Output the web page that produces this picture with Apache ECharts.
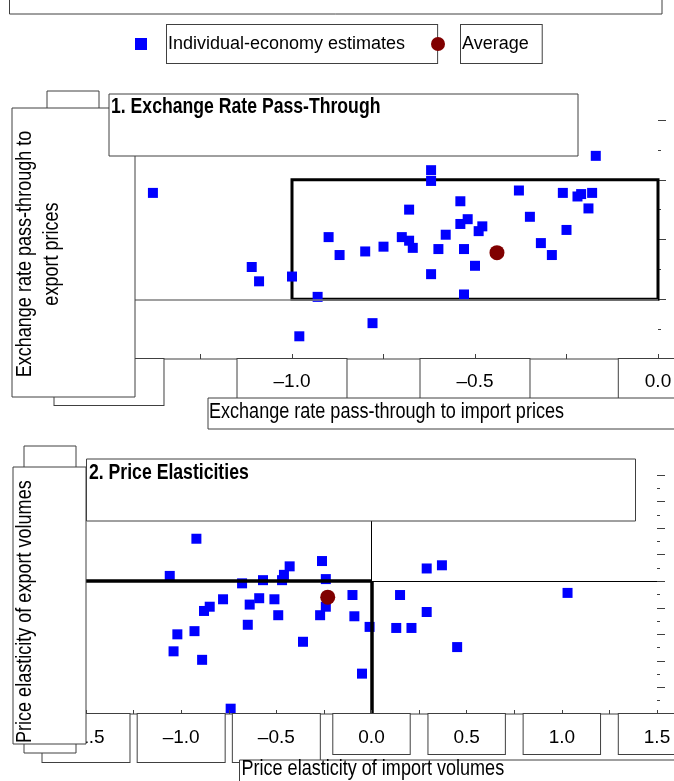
<!DOCTYPE html>
<html>
<head>
<meta charset="utf-8">
<title>Exchange rate pass-through and price elasticities</title>
<script src="https://cdn.jsdelivr.net/npm/echarts@6/dist/echarts.min.js"></script>
<style>
  html, body { margin: 0; padding: 0; background: #fff; }
  #chart { width: 674px; height: 781px; }
</style>
</head>
<body>
<div id="chart"></div>
<script>
// Panel 1: pass-through to import prices (x) and to export prices (y)
const passImport = [-0.17, -0.62, -0.62, -1.38, -0.38, -0.26, -0.21, -0.22, -0.18, -0.19,
                    -0.54, -0.68, -0.35, -0.52, -0.54, -0.48, -0.49, -0.25, -0.58, -0.90,
                    -0.70, -0.68, -0.67, -0.75, -0.60, -0.53, -0.32, -0.80, -0.87, -0.29,
                    -1.11, -1.09, -1.00, -0.50, -0.62, -0.93, -0.53, -0.78, -0.98];
const passExport = [1.20, 1.08, 0.99, 0.89, 0.91, 0.89, 0.88, 0.86, 0.89, 0.76,
                    0.82, 0.75, 0.69, 0.67, 0.63, 0.61, 0.57, 0.58, 0.54, 0.52,
                    0.52, 0.49, 0.43, 0.44, 0.42, 0.42, 0.47, 0.40, 0.37, 0.37,
                    0.27, 0.15, 0.19, 0.28, 0.21, 0.02, 0.04, -0.20, -0.31];
const passAverage = [-0.44, 0.39];

// Panel 2: price elasticity of import volumes (x) and export volumes (y)
const elasImport = [-0.92, -1.06, -0.68, -0.57, -0.47, -0.46, -0.43, -0.26, -0.24, 0.29,
                    0.37, 1.03, -0.78, -0.85, -0.88, -0.64, -0.59, -0.51, -0.49, -0.24,
                    -0.27, -0.10, -0.09, -0.01, 0.15, 0.29, 0.13, 0.21, -0.65, -0.93,
                    -1.02, -1.04, -0.89, -0.36, 0.45, -0.05, -0.74];
const elasExport = [0.40, 0.05, -0.02, 0.01, 0.01, 0.06, 0.14, 0.19, 0.02, 0.12,
                    0.15, -0.11, -0.17, -0.24, -0.28, -0.22, -0.16, -0.17, -0.32, -0.24,
                    -0.32, -0.13, -0.33, -0.43, -0.13, -0.29, -0.44, -0.44, -0.41, -0.47,
                    -0.50, -0.66, -0.74, -0.57, -0.62, -0.87, -1.20];
const elasAverage = [-0.23, -0.15];

// reference box of panel 1 and zero lines of panel 2
const passBox = [[-1, 0], [0, 1]];
const elasZero = 0;

const FONT = '"Liberation Sans", Arial, sans-serif';
const NARROW = 0.82; // the original type is a condensed sans
const BLUE = '#0000ff';
const RED = '#800000';
const EDGE = '#404040';
const NAME_EST = 'Individual-economy estimates';
const NAME_AVG = 'Average';

function pairs(xs, ys) {
    return xs.map((x, i) => [x, ys[i]]);
}

function tickText(v) {
    return v.toFixed(1).replace('-', '\u2013');
}

// boxed text style used by tick labels and legend entries
function labelBox(size, top, bottom, left, right) {
    return {
        fontFamily: FONT, fontSize: size, color: '#000',
        padding: [top, right, bottom, left],
        borderColor: EDGE, borderWidth: 1, backgroundColor: '#fff'
    };
}

function box(x, y, w, h, z) {
    return {
        type: 'rect', silent: true, z: z,
        shape: { x: x, y: y, width: w, height: h },
        style: { fill: '#fff', stroke: EDGE, lineWidth: 1 }
    };
}

function text(str, x, y, opts) {
    opts = opts || {};
    return {
        type: 'text', silent: true, z: 200, x: x, y: y,
        rotation: opts.rotation || 0,
        scaleX: NARROW,
        style: {
            text: str,
            font: (opts.bold ? 'bold ' : '') + (opts.size || 22) + 'px ' + FONT,
            fill: '#000',
            textAlign: opts.align || 'left',
            textVerticalAlign: 'middle',
            lineHeight: opts.lineHeight || 22
        }
    };
}

const chart = echarts.init(document.getElementById('chart'));

const option = {
    backgroundColor: '#fff',
    animation: false,
    legend: [
        {
            left: 135, top: 24, padding: 0, icon: 'rect', itemWidth: 12, itemHeight: 12,
            selectedMode: false, data: [NAME_EST],
            formatter: n => '{g| }{t|' + n + '}',
            textStyle: { rich: { g: { width: 15 }, t: labelBox(18, 10, 10, 1, 32) } }
        },
        {
            left: 431, top: 24, padding: 0, icon: 'circle', itemWidth: 14, itemHeight: 14,
            selectedMode: false, data: [NAME_AVG],
            formatter: n => '{g| }{t|' + n + '}',
            textStyle: { rich: { g: { width: 11 }, t: labelBox(18, 10, 10, 1, 13) } }
        }
    ],
    grid: [
        { left: 109, top: 120, width: 549, height: 239, containLabel: false, outerBoundsMode: 'none' },
        { left: 86, top: 475, width: 571, height: 239, containLabel: false, outerBoundsMode: 'none' }
    ],
    xAxis: [
        {
            gridIndex: 0, type: 'value', min: -1.5, max: 0, interval: 0.5, z: 10,
            axisLine: { onZero: false, lineStyle: { color: '#808080', width: 1.5 } },
            axisTick: { inside: true, length: 5, lineStyle: { color: EDGE } },
            minorTick: { show: true, splitNumber: 2, length: 5, lineStyle: { color: EDGE } },
            splitLine: { show: false },
            axisLabel: {
                margin: 0, showMinLabel: true, showMaxLabel: true, hideOverlap: false,
                formatter: v => (v < 0 ? '{n|' : '{p|') + tickText(v) + '}',
                rich: { n: labelBox(19, 13, 14, 36, 36), p: labelBox(19, 13, 7, 26, 26) }
            }
        },
        {
            gridIndex: 1, type: 'value', min: -1.5, max: 1.5, interval: 0.5, z: 10,
            axisLine: { onZero: false, lineStyle: { color: '#808080', width: 1.5 } },
            axisTick: { inside: true, length: 4, lineStyle: { color: EDGE } },
            minorTick: { show: true, splitNumber: 2, length: 4, lineStyle: { color: EDGE } },
            splitLine: { show: false },
            axisLabel: {
                margin: 0, showMinLabel: true, showMaxLabel: true, hideOverlap: false,
                formatter: v => (v < 0 ? '{n|' : '{p|') + tickText(v) + '}',
                rich: { n: labelBox(19, 14, 15, 25, 25), p: labelBox(19, 14, 7, 25, 25) }
            }
        }
    ],
    yAxis: [
        {
            gridIndex: 0, type: 'value', position: 'right', min: -0.5, max: 1.5, interval: 0.5,
            axisLine: { show: false, onZero: false },
            axisTick: { show: true, length: 8, lineStyle: { color: EDGE } },
            minorTick: { show: true, splitNumber: 2, length: 3, lineStyle: { color: EDGE } },
            axisLabel: { show: false },
            splitLine: { show: false }
        },
        {
            gridIndex: 1, type: 'value', position: 'right', min: -1.25, max: 1, interval: 0.25,
            axisLine: { show: false, onZero: false },
            axisTick: { show: true, length: 8, lineStyle: { color: EDGE } },
            minorTick: { show: true, splitNumber: 2, length: 3, lineStyle: { color: EDGE } },
            axisLabel: { show: false },
            splitLine: { show: false }
        }
    ],
    series: [
        {
            name: NAME_EST, type: 'scatter', xAxisIndex: 0, yAxisIndex: 0,
            symbol: 'rect', symbolSize: 10, itemStyle: { color: BLUE, opacity: 1 },
            data: pairs(passImport, passExport),
            markLine: {
                silent: true, symbol: 'none', label: { show: false },
                lineStyle: { color: '#808080', width: 1.5, type: 'solid' },
                data: [{ yAxis: elasZero }]
            },
            markArea: {
                silent: true,
                itemStyle: { color: 'rgba(0,0,0,0)', borderColor: '#000', borderWidth: 3 },
                data: [[{ coord: passBox[0] }, { coord: passBox[1] }]]
            }
        },
        {
            name: NAME_AVG, type: 'scatter', xAxisIndex: 0, yAxisIndex: 0, z: 3,
            symbol: 'circle', symbolSize: 15, itemStyle: { color: RED, opacity: 1 },
            data: [passAverage]
        },
        {
            name: NAME_EST, type: 'scatter', xAxisIndex: 1, yAxisIndex: 1,
            symbol: 'rect', symbolSize: 10, itemStyle: { color: BLUE, opacity: 1 },
            data: pairs(elasImport, elasExport),
            markLine: {
                silent: true, symbol: 'none', label: { show: false },
                lineStyle: { color: '#000', width: 1, type: 'solid' },
                data: [
                    { xAxis: elasZero },
                    { yAxis: elasZero },
                    [{ coord: [-1.5, elasZero], lineStyle: { color: '#000', width: 3.5, type: 'solid' } },
                     { coord: [elasZero, elasZero] }],
                    [{ coord: [elasZero, elasZero], lineStyle: { color: '#000', width: 3.5, type: 'solid' } },
                     { coord: [elasZero, -1.25] }]
                ]
            }
        },
        {
            name: NAME_AVG, type: 'scatter', xAxisIndex: 1, yAxisIndex: 1, z: 3,
            symbol: 'circle', symbolSize: 15, itemStyle: { color: RED, opacity: 1 },
            data: [elasAverage]
        }
    ],
    graphic: [
        box(9.5, -10, 652.5, 24, 100),
        // panel 1 frames
        box(47, 91, 52, 290, 100),
        box(12, 108, 123, 289, 110),
        box(109, 94, 469, 62, 120),
        box(208, 398, 500, 31, 120),
        text('1. Exchange Rate Pass-Through', 111, 107, { bold: true, size: 21.5 }),
        text('Exchange rate pass-through to\nexport prices', 38.5, 254,
             { rotation: Math.PI / 2, align: 'center', lineHeight: 27 }),
        text('Exchange rate pass-through to import prices', 209, 412),
        // panel 2 frames
        box(24, 446, 52, 307, 100),
        box(13, 467, 73, 277, 110),
        box(86.5, 459, 549, 62, 120),
        box(239.5, 760, 500, 40, 120),
        text('2. Price Elasticities', 89, 473, { bold: true, size: 21.5 }),
        text('Price elasticity of export volumes', 25, 743, { rotation: Math.PI / 2 }),
        text('Price elasticity of import volumes', 241.5, 769)
    ]
};

chart.setOption(option);
</script>
</body>
</html>
